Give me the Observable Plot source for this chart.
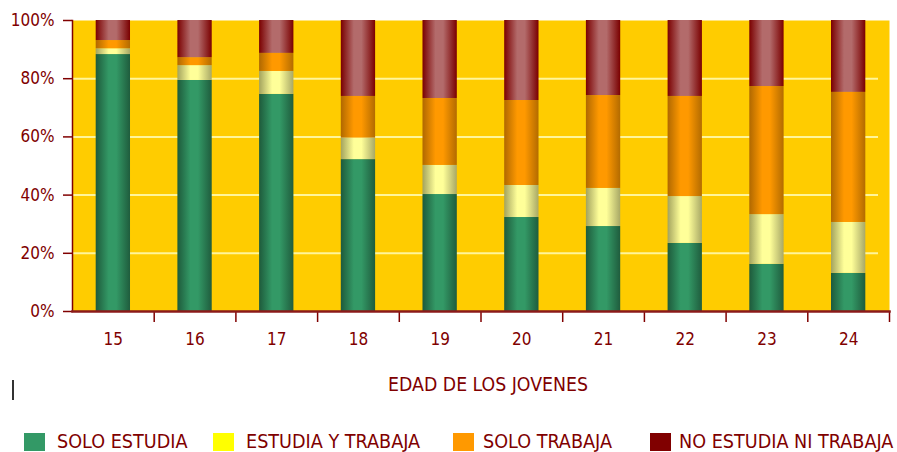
<!DOCTYPE html>
<html><head><meta charset="utf-8">
<script src="https://cdn.jsdelivr.net/npm/d3@7"></script>
<script src="https://cdn.jsdelivr.net/npm/@observablehq/plot@0.6"></script>
<style>
body{margin:0;background:#fff;}
#wrap{position:relative;width:897px;height:452px;font-family:"DejaVu Sans Condensed","DejaVu Sans",sans-serif;font-stretch:condensed;color:#800000;overflow:hidden;}
#wrap svg{position:absolute;left:0;top:0;}
.xtitle{position:absolute;left:0;width:976px;top:373px;text-align:center;font-size:19.3px;line-height:24px;color:#800000;}
.cursor{position:absolute;left:12px;top:380px;width:2px;height:20px;background:#333;}
.leg{position:absolute;top:433px;height:18px;width:21px;}
.legt{position:absolute;top:430px;font-size:19.6px;line-height:24px;color:#800000;white-space:nowrap;}
</style></head><body><div id="wrap"></div>
<script>
const ages = ["15","16","17","18","19","20","21","22","23","24"];
const soloEstudia        = [88.3, 79.4, 74.6, 52.2, 40.2, 32.3, 29.2, 23.4, 16.2, 13.1];
const estudiaYTrabaja    = [ 2.0,  5.1,  7.9,  7.4, 10.0, 11.0, 13.1, 16.1, 17.1, 17.5];
const soloTrabaja        = [ 2.8,  2.7,  6.2, 14.3, 23.0, 29.2, 31.9, 34.4, 44.0, 44.7];
const noEstudiaNiTrabaja = [ 6.9, 12.8, 11.3, 26.1, 26.8, 27.5, 25.8, 26.1, 22.7, 24.7];
const seriesNames = ["SOLO ESTUDIA","ESTUDIA Y TRABAJA","SOLO TRABAJA","NO ESTUDIA NI TRABAJA"];
const legendColors = ["#339966","#FFFF00","#FF9900","#800000"];
const yTicks = [0, 0.2, 0.4, 0.6, 0.8, 1];
const gridTicks = [0.2, 0.4, 0.6, 0.8];
const xTitle = "EDAD DE LOS JOVENES";

const seriesValues = [soloEstudia, estudiaYTrabaja, soloTrabaja, noEstudiaNiTrabaja];
const data = [];
seriesNames.forEach((s, k) => ages.forEach((a, i) => data.push({age: a, series: s, value: seriesValues[k][i] / 100})));

const gradIds = ["gG","gY","gO","gR"];
const gradStops = [
  ["#1E5A3B","#339966","#339966","#1F5C3D"],
  ["#A3A35E","#FFFF99","#FFFF99","#A8A866"],
  ["#B06800","#FF9900","#FF9900","#B36B00"],
  ["#7A0000","#B36B6B","#B36B6B","#7A0000"]
];

const plot = Plot.plot({
  width: 897, height: 420,
  marginTop: 20, marginBottom: 109, marginLeft: 72, marginRight: 8,
  style: {background: "transparent", color: "#800000", fontFamily: '"DejaVu Sans Condensed","DejaVu Sans",sans-serif', fontSize: "17px", overflow: "visible"},
  x: {domain: ages, paddingInner: 0.58, paddingOuter: 0.29, round: false, label: null},
  y: {domain: [0, 1], label: null},
  color: {domain: seriesNames, range: gradIds.map(id => `url(#${id})`)},
  marks: [
    Plot.frame({fill: "#FFCC00", stroke: null}),
    Plot.ruleY(gridTicks, {stroke: "#FFF59A", strokeWidth: 2, insetRight: 11}),
    Plot.barY(data, {x: "age", y: "value", fill: "series"}),
    Plot.axisY({ticks: yTicks, tickFormat: d3.format(".0%"), tickSize: 9, tickPadding: 9, fontSize: 17, stroke: "#800000", strokeWidth: 1.5, label: null}),
    Plot.axisX({ticks: ages, tickSize: 0, tickPadding: 21, fontSize: 17, label: null}),
    Plot.axisX({ticks: ages, text: null, tickSize: 11, dx: 40.85, stroke: "#800000", strokeWidth: 1.5, label: null}),
    Plot.frame({anchor: "left", stroke: "#800000", strokeWidth: 1.5}),
    Plot.frame({anchor: "bottom", stroke: "#8B1A1A", strokeWidth: 2.5})
  ]
});

// gradient defs
const ns = "http://www.w3.org/2000/svg";
const defs = document.createElementNS(ns, "defs");
gradIds.forEach((id, k) => {
  const g = document.createElementNS(ns, "linearGradient");
  g.setAttribute("id", id);
  g.setAttribute("x1", "0"); g.setAttribute("x2", "1"); g.setAttribute("y1", "0"); g.setAttribute("y2", "0");
  [0, 0.38, 0.6, 1].forEach((o, j) => {
    const st = document.createElementNS(ns, "stop");
    st.setAttribute("offset", o);
    st.setAttribute("stop-color", gradStops[k][j]);
    g.appendChild(st);
  });
  defs.appendChild(g);
});
plot.insertBefore(defs, plot.firstChild);

const wrap = document.getElementById("wrap");
wrap.appendChild(plot);

const t = document.createElement("div");
t.className = "xtitle"; t.textContent = xTitle; wrap.appendChild(t);
const c = document.createElement("div"); c.className = "cursor"; wrap.appendChild(c);

const legSquareX = [24, 213, 453, 650];
const legTextX = [57, 246, 483, 679];
seriesNames.forEach((s, k) => {
  const sq = document.createElement("div");
  sq.className = "leg"; sq.style.left = legSquareX[k] + "px"; sq.style.background = legendColors[k];
  wrap.appendChild(sq);
  const tx = document.createElement("div");
  tx.className = "legt"; tx.style.left = legTextX[k] + "px"; tx.textContent = s;
  wrap.appendChild(tx);
});
</script>
</body></html>
